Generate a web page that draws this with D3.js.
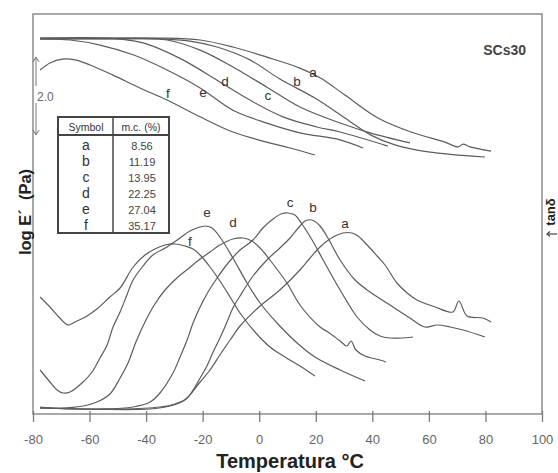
<!DOCTYPE html>
<html><head><meta charset="utf-8">
<script src="https://cdn.jsdelivr.net/npm/d3@7"></script>
<style>html,body{margin:0;padding:0;background:#fff;} svg{display:block;font-family:"Liberation Sans",Arial,sans-serif;}</style>
</head><body><svg id="c" width="558" height="473"></svg>
<script>
// ---- data ----
const xTicks = [-80, -60, -40, -20, 0, 20, 40, 60, 80, 100];
const symbols = ["a", "b", "c", "d", "e", "f"];
const moisture = ["8.56", "11.19", "13.95", "22.25", "27.04", "35.17"];

// log E' (Pa) curves: [temperature °C, log E']
const logE_a = [[-77.5,9.64],[-56.3,9.64],[-35.1,9.64],[-20.9,9.59],[-9.3,9.41],[2.7,9.15],[14.4,8.87],[21.5,8.62],[30.3,8.18],[42.0,7.59],[53.7,7.23],[65.7,6.97],[70.3,6.85],[72.1,6.92],[74.5,6.85],[82.0,6.74]];
const logE_b = [[-77.5,9.62],[-56.3,9.62],[-35.1,9.62],[-24.5,9.56],[-14.9,9.41],[-3.3,9.08],[7.3,8.59],[19.7,8.10],[30.3,7.59],[39.5,7.15],[48.0,6.90],[59.7,6.72],[79.8,6.59]];
const logE_c = [[-77.5,9.62],[-49.2,9.62],[-32.6,9.59],[-20.9,9.33],[-9.3,8.90],[2.7,8.38],[14.4,7.87],[28.6,7.46],[39.2,7.21],[53.3,6.95]];
const logE_d = [[-77.5,9.64],[-52.8,9.64],[-43.9,9.56],[-38.6,9.46],[-27.0,9.08],[-14.9,8.56],[-3.3,8.05],[8.4,7.62],[20.4,7.36],[28.6,7.23],[45.5,6.87]];
const logE_e = [[-77.5,9.62],[-66.9,9.59],[-56.3,9.46],[-44.6,9.21],[-32.6,8.82],[-20.9,8.36],[-9.3,7.79],[2.7,7.46],[14.4,7.21],[28.6,7.03],[36.7,6.82]];
const logE_f = [[-77.5,8.82],[-74.0,9.00],[-69.7,9.10],[-65.1,9.08],[-59.8,8.95],[-51.7,8.69],[-42.2,8.36],[-32.6,8.05],[-20.9,7.62],[-9.3,7.23],[2.7,6.97],[10.9,6.82],[19.7,6.64]];

// tan delta curves: [temperature °C, tan δ]
const tanD_a = [[-77.5,0.012],[-38.6,0.010],[-31.6,0.016],[-26.3,0.028],[-20.9,0.064],[-17.4,0.088],[-13.9,0.118],[-10.3,0.148],[-6.8,0.176],[0.3,0.216],[7.3,0.248],[14.4,0.288],[18.0,0.312],[21.5,0.334],[26.1,0.354],[29.6,0.362],[32.8,0.362],[34.9,0.356],[38.5,0.336],[42.0,0.314],[44.5,0.298],[48.7,0.262],[52.3,0.242],[55.8,0.228],[62.2,0.214],[68.5,0.204],[70.6,0.226],[73.5,0.196],[79.1,0.192],[82.0,0.184]];
const tanD_b = [[-77.5,0.012],[-49.2,0.010],[-35.1,0.014],[-29.8,0.020],[-25.5,0.032],[-20.9,0.072],[-18.5,0.096],[-16.3,0.124],[-13.9,0.152],[-11.4,0.184],[-9.3,0.212],[-6.8,0.236],[-2.2,0.276],[2.7,0.308],[7.3,0.332],[10.9,0.352],[14.4,0.376],[16.2,0.386],[18.7,0.388],[21.5,0.376],[24.3,0.352],[28.6,0.308],[33.9,0.268],[39.2,0.244],[46.2,0.218],[53.3,0.192],[58.6,0.174],[62.9,0.178],[67.5,0.174],[72.1,0.168],[79.8,0.154]];
const tanD_c = [[-77.5,0.012],[-56.3,0.010],[-44.6,0.014],[-38.6,0.024],[-35.1,0.042],[-30.5,0.082],[-28.0,0.114],[-25.5,0.148],[-23.4,0.182],[-20.9,0.214],[-18.1,0.244],[-14.9,0.272],[-11.0,0.302],[-6.8,0.328],[-2.2,0.348],[1.3,0.372],[4.9,0.390],[7.7,0.400],[10.2,0.402],[12.6,0.398],[15.1,0.380],[18.7,0.348],[22.6,0.308],[28.6,0.248],[34.6,0.194],[39.2,0.168],[42.7,0.156],[46.2,0.152],[49.8,0.152],[54.4,0.154]];
const tanD_d = [[-77.5,0.014],[-70.5,0.012],[-62.3,0.016],[-57.4,0.024],[-52.8,0.040],[-49.2,0.072],[-46.4,0.102],[-43.6,0.144],[-40.4,0.184],[-36.9,0.220],[-33.3,0.248],[-29.1,0.272],[-25.2,0.290],[-20.9,0.310],[-17.4,0.324],[-13.9,0.338],[-9.3,0.350],[-5.7,0.352],[-2.6,0.346],[0.3,0.332],[3.8,0.308],[9.8,0.262],[14.4,0.218],[21.5,0.174],[24.3,0.164],[28.6,0.146],[31.0,0.136],[32.5,0.146],[34.2,0.128],[37.4,0.116],[42.7,0.108],[44.8,0.104]];
const tanD_e = [[-77.5,0.088],[-74.0,0.064],[-71.5,0.048],[-69.4,0.042],[-66.9,0.044],[-62.3,0.064],[-59.1,0.084],[-56.3,0.112],[-53.8,0.138],[-51.7,0.174],[-49.2,0.204],[-46.8,0.238],[-44.6,0.268],[-41.1,0.296],[-37.6,0.318],[-32.6,0.334],[-28.0,0.352],[-24.5,0.366],[-22.0,0.372],[-19.2,0.376],[-16.7,0.372],[-13.9,0.354],[-9.3,0.312],[-4.3,0.262],[0.3,0.222],[6.3,0.182],[13.4,0.142],[19.7,0.114],[28.6,0.088],[37.4,0.066]];
const tanD_f = [[-77.5,0.234],[-74.0,0.214],[-70.5,0.192],[-67.6,0.178],[-65.1,0.184],[-60.9,0.196],[-57.4,0.210],[-52.8,0.234],[-49.2,0.252],[-44.6,0.294],[-40.4,0.318],[-36.9,0.330],[-33.3,0.338],[-29.8,0.340],[-26.3,0.336],[-23.4,0.330],[-20.9,0.318],[-17.4,0.294],[-13.9,0.266],[-10.3,0.234],[-6.8,0.202],[-1.5,0.164],[3.8,0.134],[9.1,0.114],[14.4,0.096],[19.7,0.076]];

// curve label anchors (temperature, value)
const logELabelT = [19.0, 13.4, 3.1, -12.1, -19.9, -32.3];
const logELabelV = [8.74, 8.51, 8.15, 8.51, 8.23, 8.21];
const tanLabelT = [30.3, 19.0, 10.9, -9.3, -18.5, -24.5];
const tanLabelV = [0.380, 0.412, 0.422, 0.382, 0.402, 0.344];

// ---- drawing ----
const svg = d3.select("#c");
const pL = 33, pR = 542, pT = 14, pB = 414;
const x = d3.scaleLinear().domain([-80, 100]).range([pL, pR]);
const yE = d3.scaleLinear().domain([0, 400 / 39]).range([pB, pT]);
const yT = d3.scaleLinear().domain([0, 0.8]).range([pB, pT]);
const curveColor = "#5c5c5c";

// frame
svg.append("rect").attr("x", pL).attr("y", pT).attr("width", pR - pL).attr("height", pB - pT)
  .attr("fill", "none").attr("stroke", "#8d8d8d").attr("stroke-width", 1.5);

// x axis
const gx = svg.append("g").attr("transform", `translate(0,${pB})`)
  .call(d3.axisBottom(x).tickValues(xTicks).tickSize(8).tickFormat(d => String(d)));
gx.select(".domain").remove();
gx.selectAll(".tick line").attr("y1", -3).attr("y2", 8).attr("stroke", "#7a7a7a").attr("stroke-width", 1.3);
gx.selectAll(".tick text").attr("y", 21).attr("font-size", 13).attr("fill", "#666")
  .attr("font-family", "'Liberation Sans', Arial, sans-serif");

// curves
const lineE = d3.line().x(d => x(d[0])).y(d => yE(d[1])).curve(d3.curveCatmullRom.alpha(0.5));
const lineT = d3.line().x(d => x(d[0])).y(d => yT(d[1])).curve(d3.curveCatmullRom.alpha(0.5));
const eSeries = [logE_a, logE_b, logE_c, logE_d, logE_e, logE_f];
const tSeries = [tanD_a, tanD_b, tanD_c, tanD_d, tanD_e, tanD_f];
svg.append("g").selectAll("path").data(eSeries).join("path")
  .attr("d", lineE).attr("fill", "none").attr("stroke", curveColor).attr("stroke-width", 1.2);
svg.append("g").selectAll("path").data(tSeries).join("path")
  .attr("d", lineT).attr("fill", "none").attr("stroke", curveColor).attr("stroke-width", 1.2);

// curve labels
svg.append("g").selectAll("text").data(symbols).join("text")
  .attr("x", (d, i) => x(logELabelT[i])).attr("y", (d, i) => yE(logELabelV[i]))
  .attr("dy", "0.32em").attr("text-anchor", "middle").attr("font-size", 13.5).attr("fill", "#333").text(d => d);
svg.append("g").selectAll("text").data(symbols).join("text")
  .attr("x", (d, i) => x(tanLabelT[i])).attr("y", (d, i) => yT(tanLabelV[i]))
  .attr("dy", "0.32em").attr("text-anchor", "middle").attr("font-size", 13.5).attr("fill", "#333").text(d => d);

// 2.0 scale bar
const barBase = 7.154, barLen = 2.0, barX = 36;
const yb0 = yE(barBase), yb1 = yE(barBase + barLen);
const sb = svg.append("g").attr("stroke", "#777").attr("stroke-width", 1).attr("fill", "none");
sb.append("line").attr("x1", barX).attr("x2", barX).attr("y1", yb1).attr("y2", yb1 + 29);
sb.append("line").attr("x1", barX).attr("x2", barX).attr("y1", yb0 - 32).attr("y2", yb0);
sb.append("path").attr("d", `M${barX - 3},${yb1 + 5}L${barX},${yb1}L${barX + 3},${yb1 + 5}`);
sb.append("path").attr("d", `M${barX - 3},${yb0 - 5}L${barX},${yb0}L${barX + 3},${yb0 - 5}`);
svg.append("text").attr("x", 37).attr("y", (yb0 + yb1) / 2 + 1).attr("dy", "0.35em")
  .attr("font-size", 12).attr("fill", "#666").text("2.0");

// legend table
const tb = svg.append("g");
const tx0 = 58, tx1 = 169, tmid = 113, ty0 = 117, ty1 = 233, thead = 135;
tb.append("rect").attr("x", tx0).attr("y", ty0).attr("width", tx1 - tx0).attr("height", ty1 - ty0)
  .attr("fill", "#fff").attr("stroke", "#444").attr("stroke-width", 2);
tb.append("line").attr("x1", tmid).attr("x2", tmid).attr("y1", ty0).attr("y2", ty1).attr("stroke", "#444").attr("stroke-width", 1.5);
tb.append("line").attr("x1", tx0).attr("x2", tx1).attr("y1", thead).attr("y2", thead).attr("stroke", "#444").attr("stroke-width", 2);
tb.append("text").attr("x", 86).attr("y", 127).attr("dy", "0.35em").attr("text-anchor", "middle")
  .attr("font-size", 10.5).attr("fill", "#333").text("Symbol");
tb.append("text").attr("x", 141).attr("y", 127).attr("dy", "0.35em").attr("text-anchor", "middle")
  .attr("font-size", 10.5).attr("fill", "#333").text("m.c. (%)");
tb.selectAll("text.sym").data(symbols).join("text").attr("class", "sym")
  .attr("x", 86).attr("y", (d, i) => 145.5 + i * 16).attr("dy", "0.32em").attr("text-anchor", "middle")
  .attr("font-size", 14).attr("fill", "#333").text(d => d);
tb.selectAll("text.mc").data(moisture).join("text").attr("class", "mc")
  .attr("x", 142).attr("y", (d, i) => 146 + i * 16).attr("dy", "0.35em").attr("text-anchor", "middle")
  .attr("font-size", 11).attr("fill", "#444").text(d => d);

// sample tag
svg.append("text").attr("x", 526).attr("y", 55).attr("text-anchor", "end")
  .attr("font-size", 14).attr("font-weight", "bold").attr("fill", "#444").text("SCs30");

// axis titles
svg.append("text").attr("x", 290).attr("y", 468).attr("text-anchor", "middle")
  .attr("font-size", 20).attr("font-weight", "bold").attr("fill", "#222").text("Temperatura °C");
svg.append("text").attr("transform", "translate(31,212) rotate(-90)").attr("text-anchor", "middle")
  .attr("font-size", 16.5).attr("font-weight", "bold").attr("fill", "#222").style("white-space", "pre")
  .text("log E\u00B4  (Pa)");
svg.append("text").attr("transform", "translate(555,212) rotate(-90)").attr("text-anchor", "middle")
  .attr("font-size", 13).attr("font-weight", "bold").attr("fill", "#222").text("tanδ");
// small pointer arrow toward the tan δ side
const pa = svg.append("g").attr("stroke", "#444").attr("stroke-width", 1.2).attr("fill", "none");
pa.append("line").attr("x1", 547).attr("x2", 557).attr("y1", 234).attr("y2", 234);
pa.append("path").attr("d", "M550,231.5L547,234L550,236.5");
</script></body></html>
